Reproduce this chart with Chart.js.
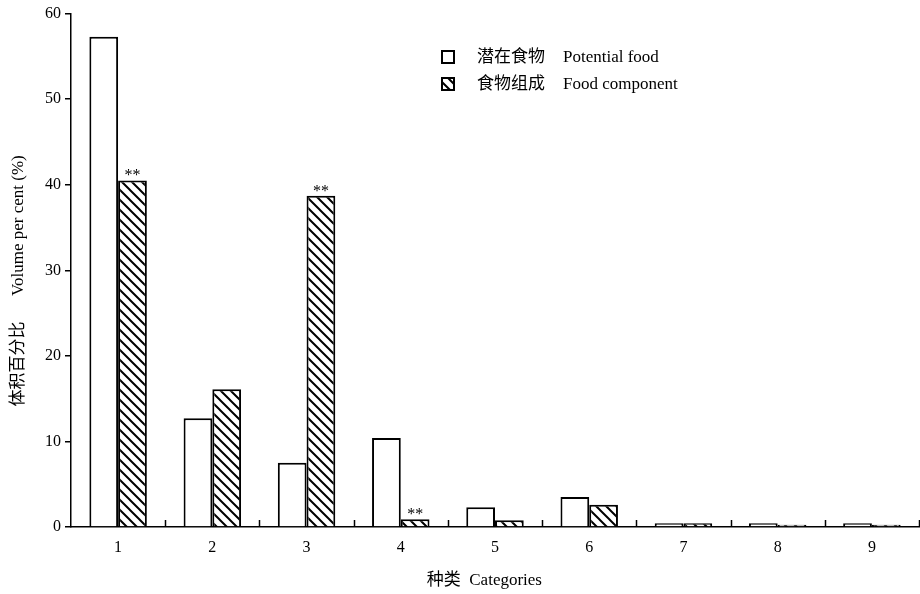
<!DOCTYPE html>
<html>
<head>
<meta charset="utf-8">
<script src="https://cdn.jsdelivr.net/npm/chart.js@4/dist/chart.umd.min.js"></script>
<style>
html,body{margin:0;padding:0;background:#fff;}
#wrap{width:920px;height:594px;position:relative;}
</style>
</head>
<body>
<div id="wrap"><canvas id="c" width="920" height="594"></canvas></div>
<script>
const categories = ['1','2','3','4','5','6','7','8','9'];
const potentialFood = [57.3, 12.7, 7.5, 10.4, 2.3, 3.5, 0.45, 0.45, 0.45];
const foodComponent = [40.5, 16.1, 38.7, 0.9, 0.8, 2.6, 0.45, 0.25, 0.25];
const significance = ['**', '', '**', '**', '', '', '', '', ''];
const seriesNamesCN = ['潜在食物', '食物组成'];
const seriesNamesEN = ['Potential food', 'Food component'];
const yTicks = [0, 10, 20, 30, 40, 50, 60];

const FONT = "'Liberation Serif', 'Times New Roman', 'Noto Sans CJK SC', serif";

function makeHatch() {
  const s = 10;
  const p = document.createElement('canvas');
  p.width = s; p.height = s;
  const g = p.getContext('2d');
  g.fillStyle = '#fff';
  g.fillRect(0, 0, s, s);
  g.strokeStyle = '#000';
  g.lineWidth = 2;
  g.beginPath();
  g.moveTo(-1, -1); g.lineTo(s + 1, s + 1);
  g.moveTo(-1, s - 1); g.lineTo(1, s + 1);
  g.moveTo(s - 1, -1); g.lineTo(s + 1, 1);
  g.stroke();
  return document.getElementById('c').getContext('2d').createPattern(p, 'repeat');
}
const hatch = makeHatch();

const extras = {
  id: 'extras',
  afterDatasetsDraw(chart) {
    const ctx = chart.ctx;
    const xs = chart.scales.x;
    const area = chart.chartArea;
    ctx.save();
    // inward tick marks at category boundaries
    ctx.strokeStyle = '#000';
    ctx.lineWidth = 1.5;
    for (let i = 0; i < categories.length; i++) {
      const x = Math.round(xs.getPixelForValue(i + 0.5)) + 0.5;
      ctx.beginPath();
      ctx.moveTo(x, area.bottom);
      ctx.lineTo(x, area.bottom - 7);
      ctx.stroke();
    }
    // significance stars
    const meta = chart.getDatasetMeta(1);
    ctx.fillStyle = '#000';
    ctx.font = "16px " + FONT;
    ctx.textAlign = 'center';
    ctx.textBaseline = 'alphabetic';
    meta.data.forEach((bar, i) => {
      if (significance[i]) ctx.fillText(significance[i], bar.x, bar.y);
    });
    // legend
    const items = [{fill: '#fff'}, {fill: hatch}];
    items.forEach((it, k) => {
      const y = 51 + k * 27;
      ctx.fillStyle = it.fill;
      ctx.fillRect(442, y, 12, 12);
      ctx.strokeStyle = '#000';
      ctx.lineWidth = 2;
      ctx.strokeRect(442, y, 12, 12);
      ctx.fillStyle = '#000';
      ctx.textAlign = 'left';
      ctx.textBaseline = 'middle';
      ctx.font = "17px 'Noto Sans CJK SC', sans-serif";
      ctx.fillText(seriesNamesCN[k], 477, y + 5);
      ctx.font = "17px " + FONT;
      ctx.fillText(seriesNamesEN[k], 563, y + 7);
    });
    ctx.restore();
  }
};

new Chart(document.getElementById('c'), {
  type: 'bar',
  data: {
    labels: categories,
    datasets: [
      {label: seriesNamesEN[0], data: potentialFood, backgroundColor: '#fff', borderColor: '#000', borderWidth: 2},
      {label: seriesNamesEN[1], data: foodComponent, backgroundColor: hatch, borderColor: '#000', borderWidth: 2}
    ]
  },
  options: {
    responsive: false,
    animation: false,
    devicePixelRatio: 1,
    layout: {padding: {top: 13, right: 1, left: 0, bottom: 0}},
    plugins: {legend: {display: false}, tooltip: {enabled: false}},
    datasets: {bar: {categoryPercentage: 0.61, barPercentage: 1.0}},
    scales: {
      x: {
        grid: {display: false, drawTicks: false},
        border: {display: true, color: '#000', width: 1.5},
        ticks: {color: '#000', font: {family: FONT, size: 16}, padding: 11},
        title: {display: true, text: '种类  Categories     ', color: '#000', font: {family: FONT, size: 17}, padding: {top: 0, bottom: 3}},
        afterFit(s) { s.height = 67; }
      },
      y: {
        min: 0, max: 60,
        afterBuildTicks(s) { s.ticks = yTicks.map(v => ({value: v})); },
        grid: {drawOnChartArea: false, drawTicks: true, tickLength: 6, color: '#000', lineWidth: 1.5},
        border: {display: true, color: '#000', width: 1.5},
        ticks: {color: '#000', font: {family: FONT, size: 16}, padding: 4},
        title: {display: true, text: '体积百分比      Volume per cent (%)     ', color: '#000', font: {family: FONT, size: 17}, padding: {top: 8, bottom: 0}},
        afterFit(s) { s.width = 71; }
      }
    }
  },
  plugins: [extras]
});
</script>
</body>
</html>
